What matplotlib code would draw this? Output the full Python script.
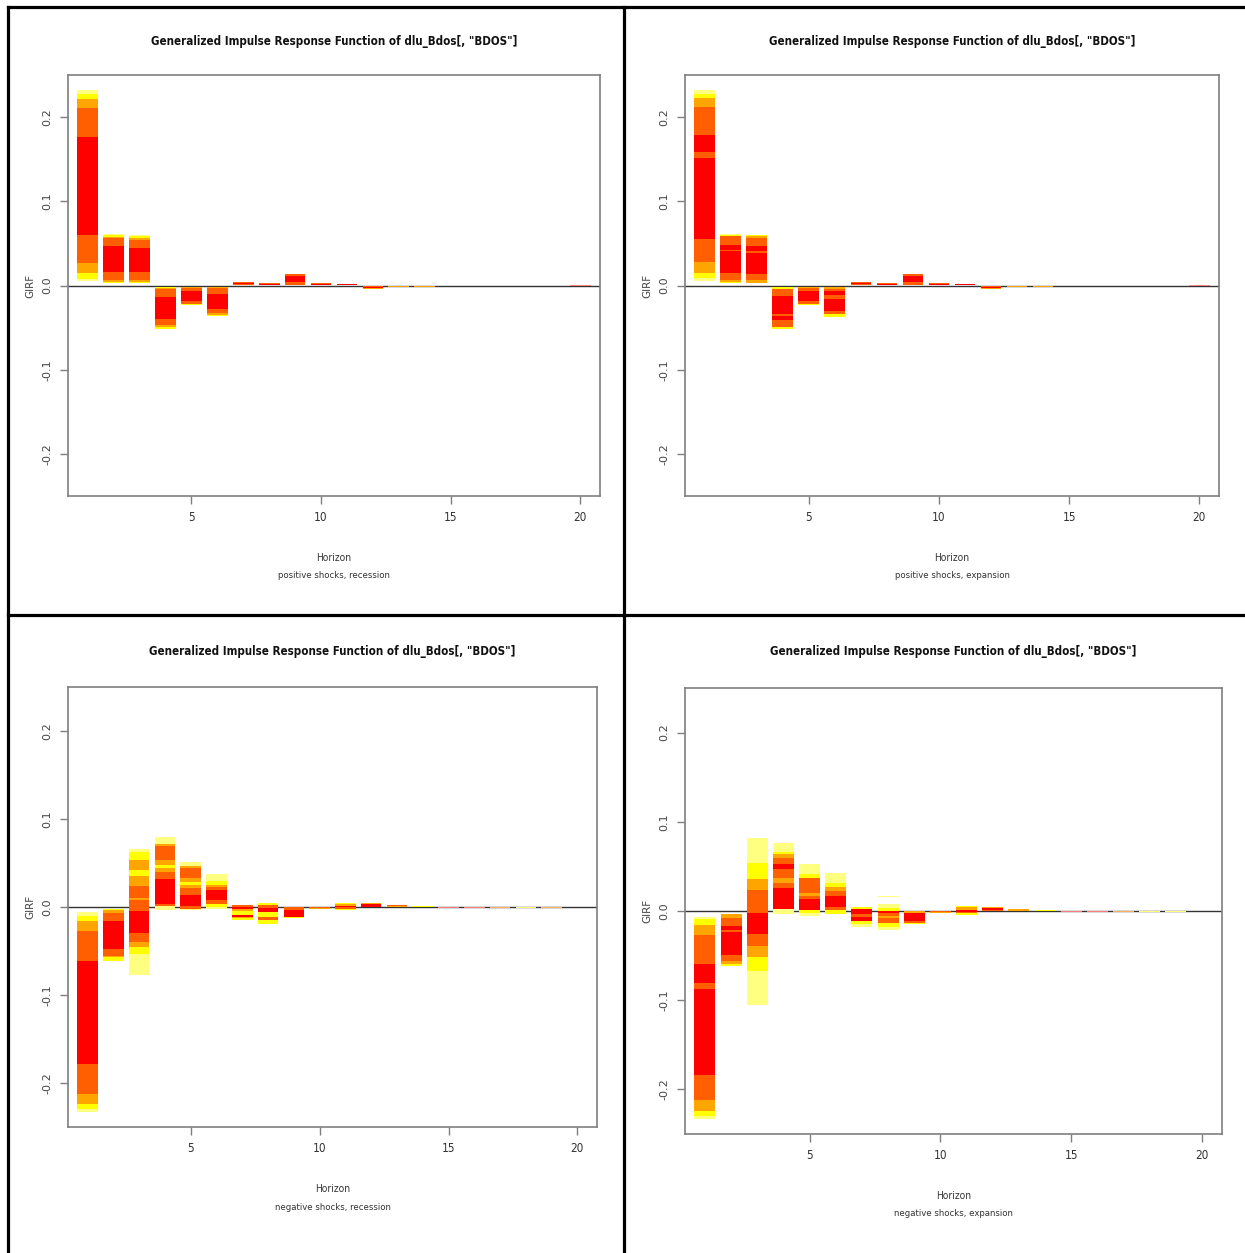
import matplotlib
matplotlib.use("Agg")
import matplotlib.pyplot as plt
from matplotlib.lines import Line2D

# ---------------------------------------------------------
# Data
# ---------------------------------------------------------
horizons = list(range(1, 21))
title = 'Generalized Impulse Response Function of dlu_Bdos[, "BDOS"]'
subtitles = ["positive shocks, recession", "positive shocks, expansion",
             "negative shocks, recession", "negative shocks, expansion"]
xticks = [5, 10, 15, 20]
yticks = [-0.2, -0.1, 0.0, 0.1, 0.2]
ytick_labels = ["-0.2", "-0.1", "0.0", "0.1", "0.2"]

# band edges per horizon (top -> bottom), and the band code between edges
# L light yellow, Y yellow, O orange, D dark orange, R red,
# P pale red, Q pale orange, - gap
pos_rec_edges = [
    [0.2325, 0.2278, 0.2218, 0.2103, 0.1764, 0.0605, 0.0265, 0.0150, 0.0079, 0.0056],
    [0.0617, 0.0600, 0.0580, 0.0566, 0.0474, 0.0158, 0.0071, 0.0047, 0.0024],
    [0.0597, 0.0585, 0.0566, 0.0546, 0.0451, 0.0158, 0.0071, 0.0047, 0.0024],
    [-0.0016, -0.0030, -0.0047, -0.0138, -0.0403, -0.0470, -0.0495, -0.0514],
    [-0.0016, -0.0028, -0.0067, -0.0182, -0.0215, -0.0237],
    [-0.0016, -0.0030, -0.0099, -0.0277, -0.0330, -0.0345, -0.0364],
    [0.0040, 0.0035, 0.0012, 0.0006],
    [0.0028, 0.0022, 0.0005, 0.0001],
    [0.0142, 0.0135, 0.0110, 0.0039, 0.0008],
    [0.0024, 0.0018, 0.0004],
    [0.0022, 0.0016, 0.0003],
    [-0.0004, -0.0012, -0.0030, -0.0038],
    [-0.0004, -0.0020],
    [-0.0004, -0.0014, -0.0022],
    [], [], [], [], [],
    [0.0006, -0.0008],
]
pos_rec_bands = ["LYODRDOYL", "LYODRDOY", "LYODRDOY", "YODRDOY", "ODRDY", "ODRDOY",
                 "DRD", "DRD", "ODRD", "DR", "DR", "DRO", "O", "OY",
                 "", "", "", "", "", "P"]

pos_exp_edges = [
    [0.2325, 0.2278, 0.2226, 0.2115, 0.1790, 0.1586, 0.1514, 0.0554, 0.0277, 0.0150, 0.0085, 0.0059],
    [0.0617, 0.0600, 0.0590, 0.0478, 0.0426, 0.0406, 0.0150, 0.0071, 0.0047, 0.0024],
    [0.0597, 0.0585, 0.0566, 0.0466, 0.0407, 0.0387, 0.0142, 0.0063, 0.0024],
    [-0.0016, -0.0047, -0.0127, -0.0344, -0.0364, -0.0410, -0.0490, -0.0522],
    [-0.0016, -0.0028, -0.0060, -0.0180, -0.0225, -0.0237],
    [-0.0016, -0.0040, -0.0071, -0.0111, -0.0166, -0.0304, -0.0344, -0.0370],
    [0.0040, 0.0035, 0.0012, 0.0006],
    [0.0028, 0.0022, 0.0005, 0.0001],
    [0.0142, 0.0135, 0.0110, 0.0039, 0.0008],
    [0.0024, 0.0018, 0.0004],
    [0.0022, 0.0016, 0.0003],
    [-0.0004, -0.0012, -0.0030, -0.0038],
    [-0.0004, -0.0020],
    [-0.0004, -0.0014, -0.0022],
    [], [], [], [], [],
    [0.0006, -0.0008],
]
pos_exp_bands = ["LYODRDRDOYL", "LYDRDRDOY", "YODRDRDO", "YDRDRDY", "ODRDY", "ODRDRDY",
                 "DRD", "DRD", "ODRD", "DR", "DR", "DRO", "O", "OY",
                 "", "", "", "", "", "P"]

neg_rec_edges = [
    [-0.0053, -0.0099, -0.0163, -0.0277, -0.0618, -0.1780, -0.2120, -0.2235, -0.2300, -0.2330],
    [-0.0023, -0.0038, -0.0068, -0.0163, -0.0474, -0.0553, -0.0572, -0.0610],
    [0.0659, 0.0628, 0.0538, 0.0424, 0.0348, 0.0242, 0.0102, 0.0083, -0.0042, -0.0295,
     -0.0402, -0.0455, -0.0531, -0.0769],
    [0.0795, 0.0719, 0.0697, 0.0538, 0.0481, 0.0443, 0.0393, 0.0318, 0.0038, 0.0010, -0.0038],
    [0.0511, 0.0461, 0.0443, 0.0330, 0.0280, 0.0246, 0.0211, 0.0140, 0.0015, -0.0023, -0.0038],
    [0.0378, 0.0291, 0.0246, 0.0227, 0.0189, 0.0083, 0.0038, 0.0000, -0.0023],
    [0.0018, -0.0005, -0.0023, -0.0050, -0.0088, -0.0114, -0.0130, -0.0144],
    [0.0045, 0.0026, -0.0011, -0.0061, -0.0114, -0.0144, -0.0190],
    [0.0000, -0.0030, -0.0110, -0.0125],
    [-0.0003, -0.0010, -0.0027],
    [0.0045, 0.0030, 0.0012, -0.0003, -0.0020, -0.0035],
    [0.0045, 0.0030, 0.0005, -0.0001],
    [0.0025, 0.0010, 0.0000],
    [0.0017, 0.0007, 0.0000],
    [0.0004, -0.0012],
    [0.0004, -0.0012],
    [0.0004, -0.0010],
    [0.0004, -0.0008],
    [0.0004, -0.0008],
    [],
]
neg_rec_bands = ["LYODRDOYL", "YODRDOY", "LYOYODODRDOYL", "LODOYODRDL", "LODOYODRDL",
                 "LYODRDYL", "DROYROY", "YDRYDY", "DRY", "DO", "YORDY", "ORD", "DO", "OY",
                 "P", "P", "Q", "L", "Q", ""]

neg_exp_edges = [
    [-0.0067, -0.0086, -0.0157, -0.0273, -0.0590, -0.0810, -0.0876, -0.1840, -0.2120,
     -0.2247, -0.2300, -0.2330],
    [-0.0030, -0.0075, -0.0169, -0.0217, -0.0236, -0.0494, -0.0562, -0.0592, -0.0622],
    [0.0813, 0.0543, 0.0363, 0.0236, -0.0019, -0.0262, -0.0397, -0.0517, -0.0674, -0.1050],
    [0.0760, 0.0663, 0.0637, 0.0592, 0.0532, 0.0468, 0.0375, 0.0315, 0.0262, 0.0019, -0.0037],
    [0.0528, 0.0420, 0.0367, 0.0206, 0.0169, 0.0138, 0.0008, -0.0020, -0.0056],
    [0.0427, 0.0318, 0.0273, 0.0225, 0.0165, 0.0045, 0.0007, -0.0030],
    [0.0045, 0.0019, -0.0037, -0.0067, -0.0112, -0.0150, -0.0180],
    [0.0170, 0.0160, 0.0075, 0.0030, 0.0000, -0.0019, -0.0056, -0.0082, -0.0138, -0.0176, -0.0217],
    [0.0000, -0.0026, -0.0112, -0.0131, -0.0142],
    [-0.0002, -0.0010, -0.0022],
    [0.0056, 0.0040, 0.0010, -0.0008, -0.0027, -0.0049],
    [0.0043, 0.0030, 0.0008, -0.0005],
    [0.0022, 0.0005],
    [0.0015, 0.0005, -0.0005],
    [0.0004, -0.0012],
    [0.0004, -0.0012],
    [0.0004, -0.0010],
    [0.0004, -0.0008],
    [0.0004, -0.0008],
    [],
]
neg_exp_bands = ["LYODRDRDOYL", "ODRDRDOY", "LYODRDOYL", "LYODRDODRL", "LYDODRYL",
                 "LYODRDY", "YRDRYL", "L-LYRDODYL", "ORDY", "DO", "YORDY", "ORD", "O", "YO",
                 "P", "P", "Q", "L", "L", ""]

band_colors = {"L": "#FFFF80", "Y": "#FFFF00", "O": "#FFA500", "D": "#FF5F00",
               "R": "#FF0000", "P": "#FF8080", "Q": "#FFB060"}

# ---------------------------------------------------------
# Layout (pixels of the 1245x1253 picture)
# ---------------------------------------------------------
W, H = 1245, 1253
panels = [
    # (box x0, y0, x1, y1), title y, data
    ((68, 75, 600, 496), 42, pos_rec_edges, pos_rec_bands),
    ((685, 75, 1219, 496), 42, pos_exp_edges, pos_exp_bands),
    ((68, 687, 597, 1127), 652, neg_rec_edges, neg_rec_bands),
    ((685, 688, 1222, 1134), 652, neg_exp_edges, neg_exp_bands),
]

family = ["DejaVu Sans"]
grey = "#7f7f7f"

fig = plt.figure(figsize=(W / 100, H / 100), dpi=100)


def fx(px):
    return px / W


def fy(py):
    return 1 - py / H


for (box, ty, edges, bands), sub in zip(panels, subtitles):
    x0, y0, x1, y1 = box
    ax = fig.add_axes([fx(x0), fy(y1), fx(x1 - x0), (y1 - y0) / H])

    # zero line sits under the bars, as in the original
    ax.axhline(0, color="#333333", lw=1.0, zorder=1)

    for h, e, b in zip(horizons, edges, bands):
        for top, bot, code in zip(e[:-1], e[1:], b):
            if code == "-":
                continue
            ax.bar(h, top - bot, bottom=bot, width=0.8, color=band_colors[code],
                   linewidth=0, zorder=2)

    ax.set_xlim(0.24, 20.76)
    ax.set_ylim(-0.25, 0.25)

    ax.set_xticks(xticks)
    ax.set_xticklabels([str(t) for t in xticks], family=family, stretch="condensed",
                       fontsize=8.5, color="#333333")
    ax.set_yticks(yticks)
    ax.set_yticklabels(ytick_labels, family=family, fontsize=8, color="#444444",
                       rotation=90, va="center")
    ax.tick_params(direction="out", length=6, width=1, color=grey, pad=5)
    for s in ax.spines.values():
        s.set_color(grey)
        s.set_linewidth(1.2)

    cx = (x0 + x1) / 2
    fig.text(fx(cx), fy(ty), title, family=family, stretch="condensed", fontsize=8.3,
             fontweight="bold", ha="center", va="center", color="#111111")
    fig.text(fx(cx), fy(y1 + 62), "Horizon", family=family, stretch="condensed",
             fontsize=7.3, ha="center", va="center", color="#333333")
    fig.text(fx(cx), fy(y1 + 80), sub, family=family, stretch="condensed",
             fontsize=6.8, ha="center", va="center", color="#333333")
    fig.text(fx(x0 - 38), fy((y0 + y1) / 2), "GIRF", family=family, fontsize=7.5,
             rotation=90, ha="center", va="center", color="#444444")

# frame lines around the four panels
frame = [((8, 7), (W, 7)), ((8, 7), (8, H)), ((624, 7), (624, H)), ((8, 615), (W, 615))]
for (ax0, ay0), (ax1, ay1) in frame:
    fig.add_artist(Line2D([fx(ax0), fx(ax1)], [fy(ay0), fy(ay1)], color="black",
                          lw=2.3, transform=fig.transFigure))

fig.savefig("out.png", dpi=100)
